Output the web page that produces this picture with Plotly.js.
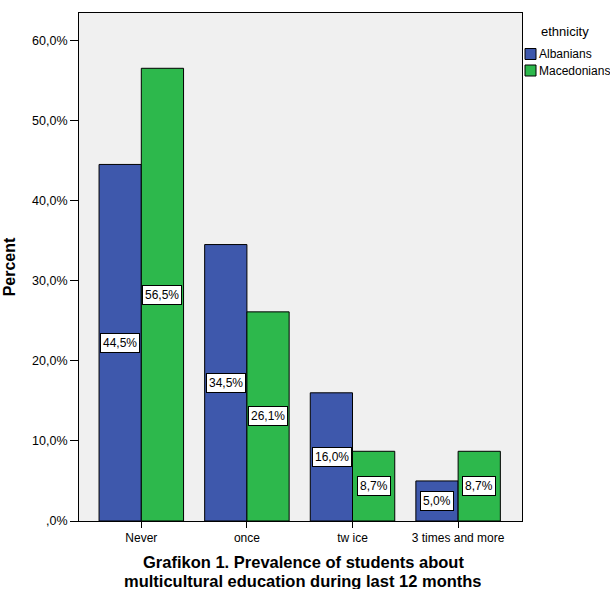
<!DOCTYPE html>
<html><head><meta charset="utf-8">
<script src="https://cdn.plot.ly/plotly-3.0.1.min.js"></script>
<style>html,body{margin:0;padding:0;background:#fff;overflow:hidden}#chart{width:610px;height:590px}</style>
</head><body><div id="chart"></div>
<script>
const categories = ["Never", "once", "tw ice", "3 times and more"];
const albanians = [44.5, 34.5, 16.0, 5.0];
const macedonians = [56.5, 26.1, 8.7, 8.7];
const seriesNames = ["Albanians", "Macedonians"];
const seriesColors = ["#3e58ac", "#2db84c"];
const legendTitle = "ethnicity";
const yTickVals = [0, 10, 20, 30, 40, 50, 60];
const yTickText = [",0%", "10,0%", "20,0%", "30,0%", "40,0%", "50,0%", "60,0%"];
const titleLines = ["Grafikon 1. Prevalence of students about", "multicultural education during last 12 months"];

const W = 610, H = 590;
const M = {l:79, r:88, t:13, b:69};
const PW = W - M.l - M.r, PH = H - M.t - M.b;
const px = x => (x - M.l) / PW;        // pixel x -> paper x
const py = y => (H - M.b - y) / PH;    // pixel y -> paper y

function fmt(v){ return v.toFixed(1).replace(".", ",") + "%"; }
const FONT = "Liberation Sans, Arial, sans-serif";

const traces = [albanians, macedonians].map((arr, si) => ({
  type:"bar", name:seriesNames[si], x:categories, y:arr,
  marker:{color:seriesColors[si], line:{color:"#000", width:1}}, hoverinfo:"skip"
}));

const annotations = [];
[albanians, macedonians].forEach((arr, si) => {
  arr.forEach((v, i) => {
    annotations.push({x:categories[i], y:v/2, xref:"x", yref:"y", text:fmt(v),
      showarrow:false, xshift: si===0 ? -21 : 21, bgcolor:"#fff", bordercolor:"#000",
      borderwidth:1, borderpad:2, font:{family:FONT, size:12, color:"#000"}});
  });
});

// bottom title (two lines)
titleLines.forEach((t, i) => {
  annotations.push({text:"<b>"+t+"</b>", xref:"paper", yref:"paper", x:px(303), y:py(562 + i*18.5),
    xanchor:"center", yanchor:"middle", showarrow:false, height:16, borderpad:0,
    font:{family:FONT, size:16.5, color:"#000"}});
});

// legend (drawn manually to match layout)
const shapes = [];
annotations.push({text:legendTitle, xref:"paper", yref:"paper", x:px(539), y:py(31),
  xanchor:"left", yanchor:"middle", showarrow:false, font:{family:FONT, size:13, color:"#000"}});
seriesNames.forEach((n, i) => {
  const cy = 54 + i*16.5;
  shapes.push({type:"rect", xref:"paper", yref:"paper", x0:px(525), x1:px(536), y0:py(cy-5.5), y1:py(cy+5.5),
    fillcolor:seriesColors[i], line:{color:"#000", width:1}});
  annotations.push({text:n, xref:"paper", yref:"paper", x:px(537), y:py(cy),
    xanchor:"left", yanchor:"middle", showarrow:false, font:{family:FONT, size:12, color:"#000"}});
});

const layout = {
  width:W, height:H,
  margin:{l:M.l, r:M.r, t:M.t, b:M.b, autoexpand:false},
  paper_bgcolor:"#fff", plot_bgcolor:"#f0f0f0",
  barmode:"group", bargap:0.2, bargroupgap:0,
  font:{family:FONT, size:12, color:"#000"},
  showlegend:false,
  xaxis:{range:[-0.59, 3.605], showline:true, linecolor:"#000", linewidth:1, mirror:true,
    ticks:"outside", ticklen:6, tickcolor:"#000", showgrid:false, zeroline:false,
    tickfont:{size:12}},
  yaxis:{range:[0, 63.4], showline:true, linecolor:"#000", linewidth:1, mirror:true,
    ticks:"outside", ticklen:8, tickcolor:"#000", showgrid:false, zeroline:false,
    tickvals:yTickVals, ticktext:yTickText, tickfont:{size:12.5},
    title:{text:"<b>Percent</b>", font:{size:16}, standoff:12}},
  annotations:annotations,
  shapes:shapes
};
Plotly.newPlot("chart", traces, layout, {displayModeBar:false, staticPlot:true});
</script></body></html>
